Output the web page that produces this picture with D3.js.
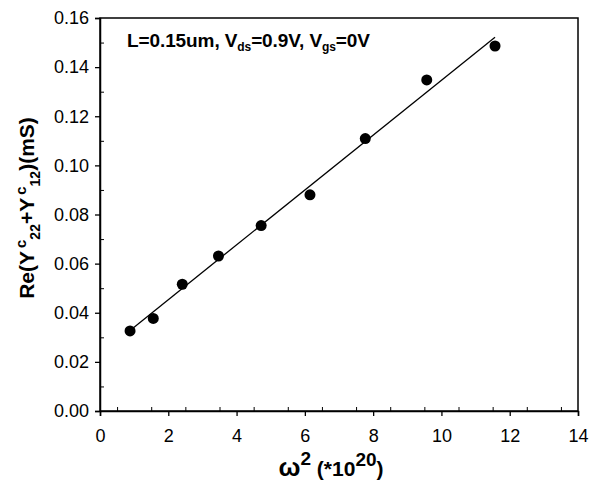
<!DOCTYPE html>
<html>
<head>
<meta charset="utf-8">
<script src="https://d3js.org/d3.v7.min.js"></script>
<style>
  body { margin: 0; background: #fff; }
  text { font-family: Arial, "Liberation Sans", sans-serif; fill: #000; }
</style>
</head>
<body>
<div id="chart"></div>
<script>
// measured points
var omega2 = [0.88, 1.56, 2.41, 3.47, 4.72, 6.15, 7.77, 9.57, 11.57];
var reY = [0.0326, 0.0377, 0.0516, 0.0631, 0.0755, 0.0880, 0.1109, 0.1348, 0.1486];
// fitted line end points
var fitX = [0.88, 11.57];
var fitY = [0.0328, 0.1522];
var xTicks = [0, 2, 4, 6, 8, 10, 12, 14];
var yTicks = [0, 0.02, 0.04, 0.06, 0.08, 0.10, 0.12, 0.14, 0.16];

var W = 596, H = 489;
var margin = {top: 18, right: 18, bottom: 78, left: 100};
var width = W - margin.left - margin.right,
    height = H - margin.top - margin.bottom;

var svg = d3.select("#chart").append("svg")
    .attr("width", W).attr("height", H);
var g = svg.append("g")
    .attr("transform", "translate(" + margin.left + "," + margin.top + ")");

var x = d3.scaleLinear().domain([0, 14]).range([0, width]);
var y = d3.scaleLinear().domain([0, 0.16]).range([height, 0]);

// frame
g.append("rect")
    .attr("width", width).attr("height", height)
    .attr("fill", "none").attr("stroke", "#000").attr("stroke-width", 1.5);

// minor ticks (inside)
g.append("g")
    .attr("transform", "translate(0," + height + ")")
    .call(d3.axisTop(x).tickValues(d3.range(0.5, 14, 1)).tickSize(4).tickFormat(""))
    .call(function(a) { a.select(".domain").remove(); });
g.append("g")
    .call(d3.axisRight(y).tickValues(d3.range(0.01, 0.16, 0.02)).tickSize(4).tickFormat(""))
    .call(function(a) { a.select(".domain").remove(); });

// major axes
var xAxis = g.append("g")
    .attr("transform", "translate(0," + height + ")")
    .call(d3.axisBottom(x).tickValues(xTicks).tickSize(5).tickPadding(13).tickFormat(d3.format("d")));
var yAxis = g.append("g")
    .call(d3.axisLeft(y).tickValues(yTicks).tickSize(5).tickPadding(6).tickFormat(d3.format(".2f")));
[xAxis, yAxis].forEach(function(a) {
  a.select(".domain").attr("stroke-width", 1.5);
  a.selectAll(".tick line").attr("stroke-width", 1.3);
  a.selectAll("text").style("font-size", "18px").style("font-family", "Arial, 'Liberation Sans', sans-serif");
});

// fit line
var line = d3.line().x(function(d) { return x(d[0]); }).y(function(d) { return y(d[1]); });
g.append("path")
    .datum(d3.zip(fitX, fitY))
    .attr("d", line)
    .attr("fill", "none").attr("stroke", "#000").attr("stroke-width", 1.3);

// points
g.selectAll("circle.pt")
    .data(d3.zip(omega2, reY))
    .enter().append("circle")
    .attr("class", "pt")
    .attr("cx", function(d) { return x(d[0]); })
    .attr("cy", function(d) { return y(d[1]); })
    .attr("r", 5.5)
    .attr("fill", "#000");

// annotation
var ann = svg.append("text")
    .attr("x", 127).attr("y", 47)
    .style("font-size", "19px").style("font-weight", "bold").style("letter-spacing", "-0.1px");
ann.append("tspan").text("L=0.15um, V");
ann.append("tspan").attr("dy", 4).style("font-size", "12px").text("ds");
ann.append("tspan").attr("dy", -4).text("=0.9V, V");
ann.append("tspan").attr("dy", 4).style("font-size", "12px").text("gs");
ann.append("tspan").attr("dy", -4).text("=0V");

// x label
var xl = svg.append("text")
    .attr("x", 331).attr("y", 476)
    .attr("text-anchor", "middle")
    .style("font-weight", "bold");
xl.append("tspan").style("font-size", "26px").text("ω");
xl.append("tspan").attr("dy", -11).style("font-size", "19px").text("2");
xl.append("tspan").attr("dy", 11).style("font-size", "21px").text(" (*10");
xl.append("tspan").attr("dy", -10).style("font-size", "19px").text("20");
xl.append("tspan").attr("dy", 10).style("font-size", "21px").text(")");

// y label
var yl = svg.append("text")
    .attr("transform", "translate(34,208) rotate(-90)")
    .attr("text-anchor", "middle")
    .style("font-size", "21px").style("font-weight", "bold");
yl.append("tspan").text("Re(Y");
yl.append("tspan").attr("dx", 3).attr("dy", -8).style("font-size", "15px").text("c");
yl.append("tspan").attr("dy", 14).style("font-size", "14px").text("22");
yl.append("tspan").attr("dy", -6).text("+Y");
yl.append("tspan").attr("dx", 3).attr("dy", -8).style("font-size", "15px").text("c");
yl.append("tspan").attr("dy", 14).style("font-size", "14px").text("12");
yl.append("tspan").attr("dy", -6).text(")(mS)");
</script>
</body>
</html>
